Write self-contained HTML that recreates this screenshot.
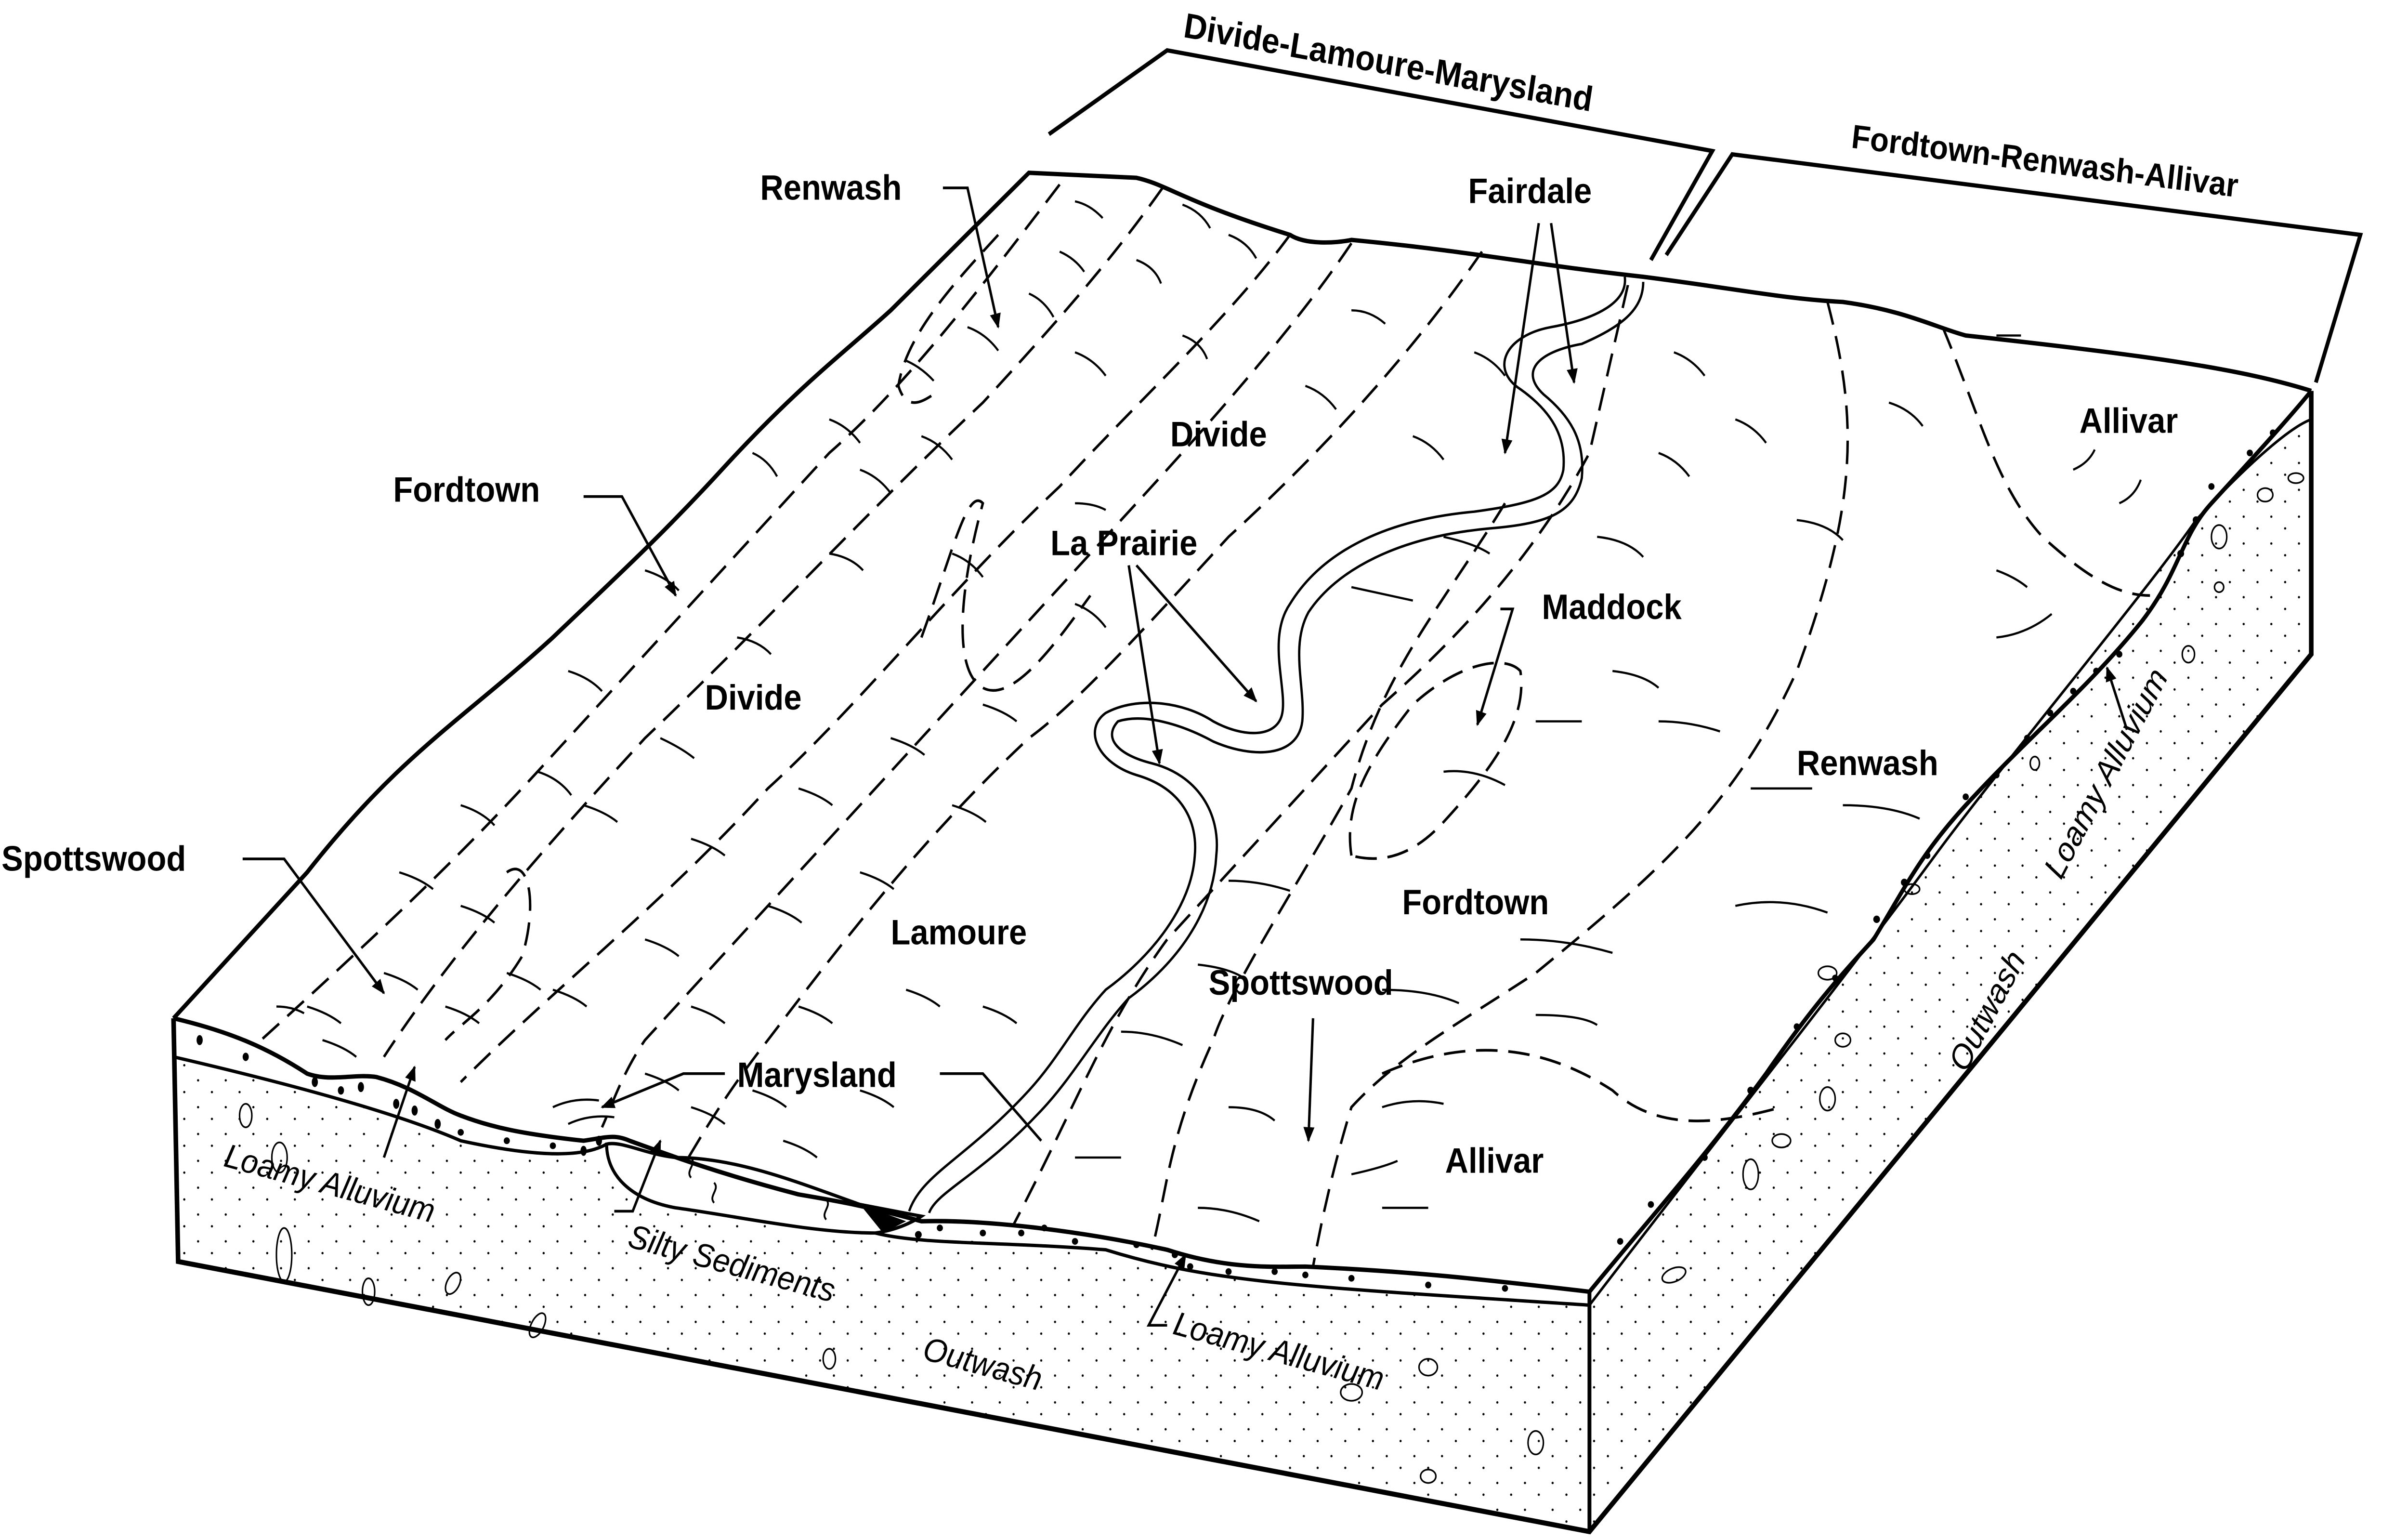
<!DOCTYPE html>
<html><head><meta charset="utf-8"><style>
html,body{margin:0;padding:0;background:#fff;width:100%;height:100%;overflow:hidden}
svg{display:block;width:100vw;height:100vh}
.b{font-family:"Liberation Sans",sans-serif;font-weight:bold;font-size:21px;fill:#000}
.i{font-family:"Liberation Sans",sans-serif;font-style:italic;font-size:20px;fill:#000}
</style></head><body>
<svg viewBox="0 0 1568 918" preserveAspectRatio="none" xmlns="http://www.w3.org/2000/svg">
<defs>
<pattern id="st" width="18" height="16" patternUnits="userSpaceOnUse">
<circle cx="3" cy="4" r="0.7" fill="#000"/><circle cx="12" cy="11" r="0.7" fill="#000"/>
</pattern>
<marker id="ar" viewBox="0 0 10 10" refX="9" refY="5" markerWidth="9" markerHeight="9" orient="auto" markerUnits="userSpaceOnUse"><path d="M0,1 L10,5 L0,9 z" fill="#000"/></marker>
</defs>
<path d="M113,630 C160,640 250,660 300,680 C350,690 380,690 395,682 C420,700 500,725 560,730 C600,740 650,740 720,745 C790,765 850,767 1035,778 L1035,913 L116,752 Z" fill="url(#st)"/>
<path d="M1035,778 C1100,700 1200,585 1260,510 C1300,460 1400,350 1430,310 L1505,250 L1505,390 L1035,913 Z" fill="url(#st)"/>
<path d="M395,682 C395,700 410,715 440,720 C480,725 530,735 570,735 C585,733 595,728 600,725 L560,718 C520,705 480,690 440,690 C420,688 405,680 395,682 Z" fill="#fff" stroke="#000" stroke-width="2"/>
<path d="M560,718 L590,728 L575,735 Z" fill="#000"/>
<path d="M113,607 L200,520 C260,450 300,430 360,380 C400,345 430,320 470,280 C520,230 550,210 580,185 L670,103 L740,106 C760,110 770,120 840,140 C850,146 870,145 880,143 C960,150 1000,158 1070,165 C1130,172 1160,178 1200,180 C1240,185 1260,195 1280,200 C1400,212 1460,220 1505,233" fill="none" stroke="#000" stroke-width="2.6"/>
<path d="M113,607 C150,615 175,625 200,640 C215,645 230,640 245,642 C270,648 285,660 300,665 C320,672 340,676 380,680 C395,678 400,676 410,680 C440,690 470,700 520,712 C545,716 560,718 600,728 C640,727 700,733 760,745 C800,757 830,755 850,755 C920,758 960,762 1035,770" fill="none" stroke="#000" stroke-width="2.6"/>
<path d="M1035,770 C1080,720 1110,690 1150,640 C1180,600 1200,580 1220,560 C1240,530 1250,510 1280,480 C1320,440 1360,410 1395,370 C1420,340 1420,320 1440,300 C1460,280 1490,250 1505,233" fill="none" stroke="#000" stroke-width="2.6"/>
<path d="M113,607 L116,752 L1035,913 L1505,390 L1505,233" fill="none" stroke="#000" stroke-width="3"/>
<path d="M1035,770 L1035,913" fill="none" stroke="#000" stroke-width="2.5"/>
<path d="M113,630 C160,640 250,660 300,680 C350,690 380,690 395,682" fill="none" stroke="#000" stroke-width="2"/>
<path d="M570,735 C600,742 650,740 720,745 C790,765 850,767 1035,778" fill="none" stroke="#000" stroke-width="2"/>
<path d="M1035,778 C1100,700 1200,585 1260,510 C1300,460 1400,350 1430,310 C1460,280 1490,255 1505,250" fill="none" stroke="#000" stroke-width="1.6"/>
<g fill="#000">
<ellipse cx="130" cy="620" rx="2" ry="3"/><ellipse cx="160" cy="630" rx="2" ry="2.5"/><ellipse cx="205" cy="645" rx="2" ry="3"/><ellipse cx="222" cy="650" rx="2" ry="2.5"/><ellipse cx="235" cy="648" rx="2" ry="3"/><ellipse cx="258" cy="658" rx="2" ry="3"/><ellipse cx="270" cy="662" rx="2" ry="3"/><ellipse cx="285" cy="670" rx="2" ry="3"/><ellipse cx="300" cy="675" rx="2" ry="2"/><ellipse cx="330" cy="680" rx="2" ry="2"/><ellipse cx="360" cy="683" rx="2" ry="2"/><ellipse cx="380" cy="686" rx="2" ry="3"/><ellipse cx="390" cy="680" rx="2" ry="3"/>
<circle cx="598" cy="736" r="2.2"/><circle cx="612" cy="732" r="2"/><circle cx="640" cy="735" r="2"/><circle cx="665" cy="735" r="2"/><circle cx="680" cy="732" r="2"/><circle cx="700" cy="740" r="2"/><circle cx="740" cy="742" r="2"/><circle cx="765" cy="748" r="2"/><circle cx="775" cy="755" r="2"/><circle cx="800" cy="758" r="2"/><circle cx="830" cy="758" r="2"/><circle cx="850" cy="760" r="2"/><circle cx="880" cy="762" r="2"/><circle cx="930" cy="766" r="2"/><circle cx="980" cy="768" r="2"/>
<circle cx="1055" cy="740" r="2"/><circle cx="1075" cy="718" r="2"/><circle cx="1110" cy="690" r="2"/><circle cx="1140" cy="650" r="2.2"/><circle cx="1170" cy="612" r="2"/><circle cx="1195" cy="583" r="2"/><circle cx="1222" cy="548" r="2.2"/><circle cx="1240" cy="526" r="2.2"/><circle cx="1255" cy="510" r="2"/><circle cx="1280" cy="475" r="2"/><circle cx="1300" cy="462" r="2"/><circle cx="1320" cy="440" r="2"/><circle cx="1335" cy="425" r="2"/><circle cx="1350" cy="412" r="2"/><circle cx="1365" cy="400" r="2"/><circle cx="1380" cy="390" r="2"/><circle cx="1420" cy="330" r="2.2"/><circle cx="1430" cy="310" r="2.2"/><circle cx="1440" cy="290" r="2"/><circle cx="1465" cy="270" r="2"/><circle cx="1480" cy="258" r="2"/>
</g>
<g fill="none" stroke="#000" stroke-width="1">
<ellipse cx="160" cy="665" rx="4" ry="7"/><ellipse cx="182" cy="690" rx="5" ry="9"/><ellipse cx="185" cy="748" rx="5" ry="16"/><ellipse cx="240" cy="770" rx="4" ry="8"/><ellipse cx="295" cy="765" rx="4" ry="7" transform="rotate(30 295 765)"/><ellipse cx="350" cy="790" rx="4" ry="8" transform="rotate(30 350 790)"/><ellipse cx="540" cy="810" rx="4" ry="6"/><ellipse cx="880" cy="830" rx="7" ry="5"/><ellipse cx="930" cy="815" rx="6" ry="5"/><ellipse cx="1000" cy="860" rx="5" ry="7"/><ellipse cx="930" cy="880" rx="5" ry="4"/><ellipse cx="1090" cy="760" rx="8" ry="4" transform="rotate(-20 1090 760)"/><ellipse cx="1140" cy="700" rx="5" ry="9"/><ellipse cx="1160" cy="680" rx="6" ry="4"/><ellipse cx="1190" cy="655" rx="5" ry="7"/><ellipse cx="1200" cy="620" rx="5" ry="4"/><ellipse cx="1190" cy="580" rx="6" ry="4"/><ellipse cx="1245" cy="530" rx="5" ry="3"/><ellipse cx="1325" cy="455" rx="3" ry="4"/><ellipse cx="1445" cy="320" rx="5" ry="7"/><ellipse cx="1475" cy="295" rx="5" ry="4"/><ellipse cx="1495" cy="285" rx="5" ry="3"/><ellipse cx="1425" cy="390" rx="4" ry="5"/><ellipse cx="1445" cy="350" rx="3" ry="3"/>
</g>
<g fill="none" stroke="#000" stroke-width="1.2"><path d="M450,690 c4,4 -4,8 0,12"/><path d="M465,705 c4,4 -4,8 0,12"/><path d="M538,715 c4,4 -4,8 0,12"/></g>
<g fill="none" stroke="#000" stroke-width="1.5">
<path d="M1058,165 C1060,180 1040,190 1010,195 C980,200 970,220 990,232 C1010,245 1020,260 1018,280 C1015,295 1000,300 960,305 C900,310 860,330 840,360 C825,380 838,410 835,425 C832,440 810,440 790,430 C770,418 740,415 720,425 C705,435 715,455 740,462 C770,470 780,490 778,510 C776,540 750,570 720,590 C700,610 690,630 670,650 C630,690 600,700 592,722"/>
<path d="M1070,168 C1070,185 1055,195 1030,205 C1000,210 990,222 1005,235 C1025,250 1032,265 1030,285 C1025,305 1010,312 970,315 C910,320 870,340 852,365 C840,385 850,410 848,430 C845,452 815,452 790,442 C770,432 745,425 728,430 C718,440 728,450 750,455 C780,462 795,485 792,510 C790,545 765,575 735,595 C715,615 700,640 680,660 C640,700 610,710 605,723"/>
</g>
<g fill="none" stroke="#000" stroke-width="1.6" stroke-dasharray="14,7">
<path d="M690,110 C640,170 590,230 540,270 C480,330 420,390 350,460 C290,520 230,570 170,620"/>
<path d="M757,112 C720,160 680,200 640,240 C570,300 500,370 420,440 C370,490 300,560 250,630"/>
<path d="M840,140 C800,190 740,240 690,290 C620,350 560,420 500,470 C430,540 360,590 300,645"/>
<path d="M880,145 C840,200 770,270 740,300 C690,350 640,400 600,440 C530,510 470,570 420,620 C405,640 398,660 392,672"/>
<path d="M965,150 C920,210 860,270 800,320 C740,380 700,420 670,440 C600,500 550,560 500,620 C470,655 455,680 445,695"/>
<path d="M1060,170 C1050,210 1040,250 1035,270 C1000,330 950,380 900,420 C840,480 790,530 760,560 C720,610 700,660 660,730"/>
<path d="M980,300 C940,360 900,400 880,470 C850,520 800,590 790,620 C760,680 760,710 750,745"/>
<path d="M1190,180 C1210,250 1210,300 1170,400 C1130,480 1080,520 1000,580 C950,610 910,630 880,660 C870,690 862,720 855,755"/>
<path d="M900,640 C950,620 1000,620 1050,650 C1080,675 1120,670 1160,660"/>
<path d="M1265,195 C1290,250 1300,290 1330,320 C1360,345 1380,355 1400,355"/>
<path d="M650,140 C620,170 590,200 585,230 C590,245 600,240 608,235"/>
<path d="M600,380 C620,330 630,290 640,300 C625,350 620,400 640,410 C660,420 690,380 710,355"/>
<path d="M330,520 C345,510 350,540 340,570 C320,600 300,610 290,620"/>
<path d="M880,510 C875,480 890,455 920,420 C950,395 980,390 990,400 C995,430 970,460 940,490 C920,510 900,515 880,510"/>
</g>
<g fill="none" stroke="#000" stroke-width="1.3">
<path d="M700,120 q10,2 18,10"/><path d="M770,122 q12,4 18,14"/><path d="M800,140 q12,4 18,14"/><path d="M690,150 q10,4 16,12"/><path d="M740,155 q12,4 16,14"/><path d="M670,175 q10,4 16,14"/><path d="M630,195 q12,4 20,14"/><path d="M590,215 q10,4 18,12"/><path d="M700,210 q12,4 20,14"/><path d="M770,200 q12,4 16,14"/><path d="M880,185 q12,0 22,8"/><path d="M960,210 q12,4 20,14"/><path d="M920,260 q12,4 20,14"/><path d="M850,230 q12,4 20,14"/><path d="M1090,210 q12,4 20,14"/><path d="M1130,250 q12,4 20,14"/><path d="M1080,270 q12,4 20,14"/><path d="M1230,240 q14,4 22,14"/><path d="M1300,200 h16"/><path d="M1350,280 q10,-4 14,-12"/><path d="M1380,300 q10,-4 14,-14"/><path d="M1300,340 q12,4 20,10"/><path d="M1040,320 q20,2 30,12"/><path d="M1170,310 q20,2 30,12"/><path d="M1300,380 q20,-2 36,-14"/><path d="M940,320 q20,4 30,10"/><path d="M880,350 q20,4 40,8"/><path d="M1050,400 q20,2 30,10"/><path d="M1000,430 h30"/><path d="M1080,430 q20,0 40,6"/><path d="M940,460 q20,-2 40,8"/><path d="M1140,470 h40"/><path d="M1200,480 q30,0 50,8"/><path d="M1130,540 q30,-6 60,4"/><path d="M990,560 q30,0 60,8"/><path d="M800,525 q20,0 40,6"/><path d="M900,590 q30,0 50,8"/><path d="M1000,605 q30,0 40,6"/><path d="M780,575 q20,2 30,8"/><path d="M730,615 q20,0 40,8"/><path d="M800,660 q20,0 30,8"/><path d="M900,660 q20,-6 40,-2"/><path d="M880,700 q20,-4 30,-8"/><path d="M900,720 q20,0 30,0"/><path d="M700,690 h30"/><path d="M780,720 q20,0 40,8"/>
<path d="M540,250 q12,4 20,14"/><path d="M490,270 q10,4 16,14"/><path d="M560,280 q12,4 20,14"/><path d="M600,260 q12,4 20,14"/><path d="M620,330 q12,4 20,14"/><path d="M700,360 q12,4 20,14"/><path d="M700,300 q12,0 20,4"/><path d="M540,330 q14,2 22,10"/><path d="M480,380 q14,2 22,10"/><path d="M420,340 q14,4 22,12"/><path d="M370,400 q14,4 22,12"/><path d="M430,440 q14,6 22,12"/><path d="M350,460 q14,4 22,14"/><path d="M300,480 q14,4 22,12"/><path d="M380,480 q14,4 22,10"/><path d="M450,500 q14,4 22,10"/><path d="M520,470 q14,4 22,10"/><path d="M580,440 q14,4 22,10"/><path d="M640,420 q14,4 22,10"/><path d="M620,480 q14,4 22,10"/><path d="M560,520 q14,4 22,10"/><path d="M500,540 q14,4 22,10"/><path d="M420,560 q14,4 22,10"/><path d="M360,590 q14,4 22,10"/><path d="M290,600 q14,4 22,10"/><path d="M250,580 q14,4 22,10"/><path d="M200,600 q14,4 22,10"/><path d="M300,540 q14,4 22,10"/><path d="M260,520 q14,4 22,10"/><path d="M330,580 q14,4 22,10"/><path d="M450,600 q14,4 22,10"/><path d="M520,600 q14,4 22,10"/><path d="M590,590 q14,4 22,10"/><path d="M640,600 q14,4 22,10"/><path d="M560,650 q14,4 22,10"/><path d="M490,650 q14,4 22,10"/><path d="M420,640 q14,4 22,10"/><path d="M360,660 q14,-6 30,-4"/><path d="M370,670 q14,-6 30,-4"/><path d="M510,680 q14,4 22,10"/><path d="M450,660 q14,4 22,10"/><path d="M210,620 q14,4 22,10"/><path d="M180,600 q10,0 18,4"/>
</g>
<g fill="none" stroke="#000" stroke-width="2.5">
<path d="M683,80 L760,30 L1115,90 L1075,155"/>
<path d="M1085,152 L1128,92 L1537,140 L1508,228"/>
</g>
<text class="b" transform="translate(770,22) rotate(9.5)">Divide-Lamoure-Marysland</text>
<text class="b" transform="translate(1205,88) rotate(6.7)" style="font-size:20px">Fordtown-Renwash-Allivar</text>
<text class="b" x="495" y="119">Renwash</text>
<text class="b" x="956" y="121">Fairdale</text>
<text class="b" x="762" y="266">Divide</text>
<text class="b" x="1354" y="258">Allivar</text>
<text class="b" x="256" y="299">Fordtown</text>
<text class="b" x="684" y="331">La Prairie</text>
<text class="b" x="1004" y="369">Maddock</text>
<text class="b" x="459" y="423">Divide</text>
<text class="b" x="1170" y="462">Renwash</text>
<text class="b" x="1" y="519">Spottswood</text>
<text class="b" x="913" y="545">Fordtown</text>
<text class="b" x="580" y="563">Lamoure</text>
<text class="b" x="787" y="593">Spottswood</text>
<text class="b" x="480" y="648">Marysland</text>
<text class="b" x="941" y="699">Allivar</text>
<text class="i" transform="translate(145,695) rotate(14)">Loamy Alluvium</text>
<text class="i" transform="translate(408,743) rotate(14)">Silty Sediments</text>
<text class="i" transform="translate(600,810) rotate(14)">Outwash</text>
<text class="i" transform="translate(763,795) rotate(14)">Loamy Alluvium</text>
<text class="i" transform="translate(1280,640) rotate(-60)">Outwash</text>
<text class="i" transform="translate(1342,525) rotate(-60)">Loamy Alluvium</text>
<g fill="none" stroke="#000" stroke-width="1.6">
<path d="M614,112 L630,112 L650,195" marker-end="url(#ar)"/>
<path d="M1002,133 L980,270" marker-end="url(#ar)"/>
<path d="M1010,133 L1025,228" marker-end="url(#ar)"/>
<path d="M380,296 L405,296 L440,355" marker-end="url(#ar)"/>
<path d="M735,337 L755,455" marker-end="url(#ar)"/>
<path d="M740,337 L818,418" marker-end="url(#ar)"/>
<path d="M977,363 L985,363 L962,432" marker-end="url(#ar)"/>
<path d="M158,512 L185,512 L250,592" marker-end="url(#ar)"/>
<path d="M472,640 L445,640 L392,660" marker-end="url(#ar)"/>
<path d="M612,640 L640,640 L678,680"/>
<path d="M855,607 L852,680" marker-end="url(#ar)"/>
<path d="M250,690 L270,636" marker-end="url(#ar)"/>
<path d="M400,722 L412,722 L430,680" marker-end="url(#ar)"/>
<path d="M760,790 L748,790 L772,748" marker-end="url(#ar)"/>
<path d="M1385,435 L1372,398" marker-end="url(#ar)"/>
</g>
</svg>
</body></html>
